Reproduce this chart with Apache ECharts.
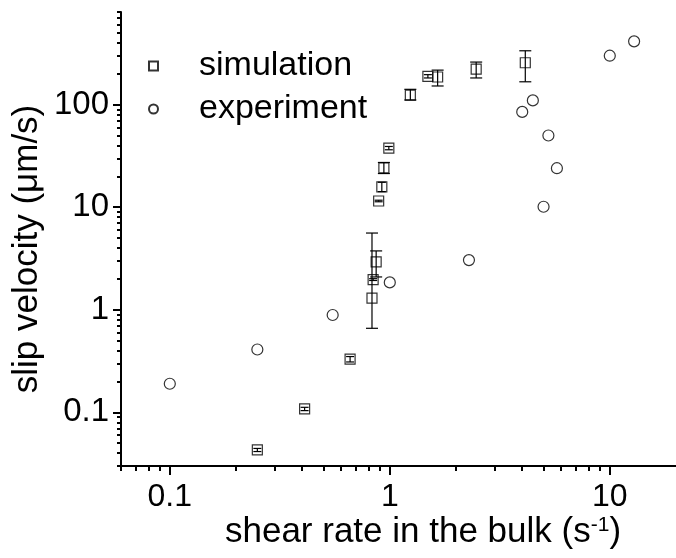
<!DOCTYPE html>
<html>
<head>
<meta charset="utf-8">
<script src="https://cdn.jsdelivr.net/npm/echarts@6/dist/echarts.min.js"></script>
<style>html,body{margin:0;padding:0;background:#fff}#c{width:676px;height:558px}</style>
</head>
<body>
<div id="c"></div>
<script>
// simulation points: [shear rate, slip velocity]
const simX = [0.25, 0.41, 0.66, 0.83, 0.84, 0.867, 0.89, 0.92, 0.94, 0.99, 1.24, 1.49, 1.65, 2.47, 4.13];
const simY = [0.043, 0.108, 0.33, 1.3, 1.97, 2.93, 11.5, 15.8, 24.2, 37.7, 124, 189, 186, 222, 256];
// error bar limits for simulation points
const simLo = [0.0415, 0.104, 0.31, 0.66, 1.93, 2.09, 11.3, 14.2, 21.3, 36.3, 111, 182, 152, 182, 167];
const simHi = [0.0445, 0.112, 0.35, 5.6, 2.01, 3.75, 11.7, 17.5, 27.3, 39.1, 141, 196, 217, 260, 335];
// experiment points
const expX = [0.1, 0.25, 0.55, 1.0, 2.29, 4.0, 4.47, 5.0, 5.26, 5.75, 10, 12.9];
const expY = [0.19, 0.41, 0.89, 1.85, 3.05, 85, 110, 10.1, 50, 24, 300, 414];
// ticks
const xMajorTicks = [0.1, 1, 10];
const xMinorTicks = [0.06, 0.07, 0.08, 0.09, 0.2, 0.3, 0.4, 0.5, 0.6, 0.7, 0.8, 0.9, 2, 3, 4, 5, 6, 7, 8, 9];
const yMajorTicks = [0.1, 1, 10, 100];
const yMinorTicks = [0.03, 0.04, 0.05, 0.06, 0.07, 0.08, 0.09, 0.2, 0.3, 0.4, 0.5, 0.6, 0.7, 0.8, 0.9,
  2, 3, 4, 5, 6, 7, 8, 9, 20, 30, 40, 50, 60, 70, 80, 90, 200, 300, 400, 500, 600, 700, 800];

const FONT = '"Liberation Sans", Arial, Helvetica, sans-serif';
const chart = echarts.init(document.getElementById('c'), null, {renderer: 'canvas'});

const simData = simX.map((x, i) => [x, simY[i]]);
const expData = expX.map((x, i) => [x, expY[i]]);
const errData = simX.map((x, i) => [x, simLo[i], simHi[i]]);

const baseX = {type: 'log', min: 0.06, max: 20, logBase: 10, gridIndex: 0, position: 'bottom', splitLine: {show: false}};
const baseY = {type: 'log', min: 0.03, max: 800, logBase: 10, gridIndex: 0, position: 'left', splitLine: {show: false}};

chart.setOption({
  animation: false,
  backgroundColor: '#fff',
  grid: {left: 121, top: 12, width: 559, height: 454, containLabel: false},
  xAxis: [
    Object.assign({}, baseX, {
      axisLine: {show: true, lineStyle: {color: '#000', width: 2}},
      axisTick: {show: true, inside: false, length: 9, lineStyle: {color: '#000', width: 2}, customValues: xMajorTicks},
      axisLabel: {show: true, margin: 15, color: '#000', fontSize: 32, fontFamily: FONT, customValues: xMajorTicks,
        formatter: v => String(v)}
    }),
    Object.assign({}, baseX, {
      axisLine: {show: false},
      axisTick: {show: true, inside: false, length: 5, lineStyle: {color: '#000', width: 2}, customValues: xMinorTicks},
      axisLabel: {show: false}
    })
  ],
  yAxis: [
    Object.assign({}, baseY, {
      axisLine: {show: true, lineStyle: {color: '#000', width: 2}},
      axisTick: {show: true, inside: false, length: 8, lineStyle: {color: '#000', width: 2}, customValues: yMajorTicks},
      axisLabel: {show: true, margin: 12, color: '#000', fontSize: 33, fontFamily: FONT, customValues: yMajorTicks,
        formatter: v => String(v)}
    }),
    Object.assign({}, baseY, {
      axisLine: {show: false},
      axisTick: {show: true, inside: false, length: 4, lineStyle: {color: '#000', width: 2}, customValues: yMinorTicks},
      axisLabel: {show: false}
    })
  ],
  legend: {
    orient: 'vertical',
    left: 143,
    top: 44,
    itemWidth: 9,
    itemHeight: 9,
    itemGap: 9,
    data: ['simulation', 'experiment'],
    textStyle: {fontSize: 34, fontFamily: FONT, color: '#000', lineHeight: 34, padding: [0, 0, 0, 36]},
    selectedMode: false
  },
  graphic: [
    {type: 'text', x: 423, y: 532, silent: true,
      style: {text: 'shear rate in the bulk (s{sup|-1})', font: '35px ' + FONT, fill: '#000',
        textAlign: 'center', textVerticalAlign: 'middle',
        rich: {sup: {fontSize: 21, fontFamily: FONT, verticalAlign: 'top', fill: '#000', lineHeight: 35}}}},
    {type: 'text', x: 27, y: 249, rotation: Math.PI / 2, silent: true,
      style: {text: 'slip velocity (μm/s)', font: '35px ' + FONT, fill: '#000',
        textAlign: 'center', textVerticalAlign: 'middle'}}
  ],
  series: [
    {
      name: 'error', type: 'custom', xAxisIndex: 0, yAxisIndex: 0, z: 3,
      data: errData,
      encode: {x: 0, y: [1, 2]},
      renderItem: function (params, api) {
        const x = api.value(0), lo = api.value(1), hi = api.value(2);
        const a = api.coord([x, lo]);
        const b = api.coord([x, hi]);
        const hw = Math.abs(a[1] - b[1]) < 10 ? 4 : 6;
        const st = {stroke: '#000', lineWidth: 1.2, fill: null};
        return {
          type: 'group',
          children: [
            {type: 'line', shape: {x1: a[0], y1: a[1], x2: b[0], y2: b[1]}, style: st},
            {type: 'line', shape: {x1: a[0] - hw, y1: a[1], x2: a[0] + hw, y2: a[1]}, style: st},
            {type: 'line', shape: {x1: b[0] - hw, y1: b[1], x2: b[0] + hw, y2: b[1]}, style: st}
          ]
        };
      }
    },
    {
      name: 'simulation', type: 'scatter', xAxisIndex: 0, yAxisIndex: 0, z: 4,
      symbol: 'rect', symbolSize: 10,
      itemStyle: {color: 'rgba(255,255,255,0)', borderColor: '#000', borderWidth: 1.2},
      data: simData
    },
    {
      name: 'experiment', type: 'scatter', xAxisIndex: 0, yAxisIndex: 0, z: 4,
      symbol: 'circle', symbolSize: 11,
      itemStyle: {color: 'rgba(255,255,255,0)', borderColor: '#000', borderWidth: 1.2},
      data: expData
    }
  ]
});
</script>
</body>
</html>
